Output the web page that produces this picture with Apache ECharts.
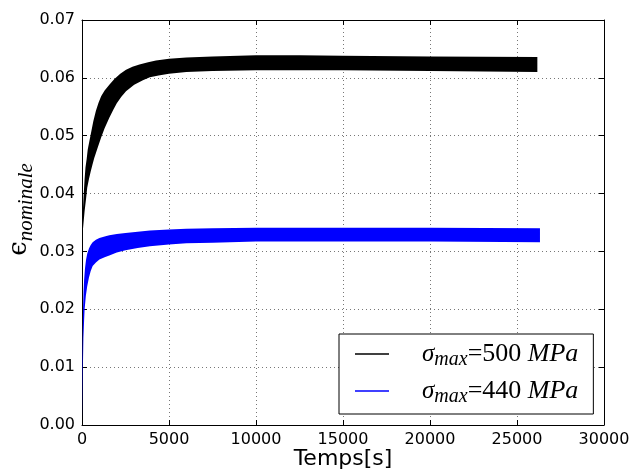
<!DOCTYPE html>
<html><head><meta charset="utf-8">
<script src="https://cdn.jsdelivr.net/npm/echarts@6/dist/echarts.min.js"></script>
<style>html,body{margin:0;padding:0;background:#fff}#c{width:632px;height:472px}</style>
</head><body><div id="c"></div><script>
// Data
const xTicks = [0, 5000, 10000, 15000, 20000, 25000, 30000];
const yTicks = ['0.00','0.01','0.02','0.03','0.04','0.05','0.06','0.07'];
const seriesNames = ['500', '440'];

const blackUpperT = [0,20,50,100,150,200,270,330,420,520,650,800,950,1100,1300,1570,1860,2200,2530,2900,3300,3800,4250,5000,6000,7500,10000,12500,15000,20000,26170];
const blackUpperV = [0.033,0.035,0.037,0.040,0.0425,0.0445,0.046,0.0476,0.049,0.0505,0.0525,0.0543,0.0557,0.0568,0.0578,0.0588,0.0598,0.0607,0.0614,0.0619,0.0623,0.0627,0.0630,0.0633,0.0635,0.0637,0.0639,0.0639,0.0638,0.0637,0.0636];
const blackLowerT = [0,60,150,230,300,400,500,600,700,800,900,1100,1300,1570,1800,2000,2250,2530,3000,3500,3900,4400,5000,6000,7500,10000,15000,20000,26170];
const blackLowerV = [0.033,0.034,0.037,0.039,0.041,0.0425,0.0438,0.045,0.0461,0.0470,0.0479,0.0497,0.0513,0.0531,0.0545,0.0556,0.0567,0.0577,0.0588,0.0596,0.0601,0.0604,0.0607,0.0610,0.0612,0.0613,0.0613,0.0612,0.0610];

const blueUpperT = [0,15,30,45,60,90,120,170,230,300,400,500,613,800,1000,1300,1570,2000,2500,3200,3900,5000,6000,7500,10000,15000,20000,26320];
const blueUpperV = [0.001,0.007,0.012,0.017,0.020,0.023,0.025,0.027,0.0285,0.0296,0.0305,0.0311,0.0316,0.0320,0.0323,0.0326,0.0328,0.0330,0.0332,0.0334,0.0336,0.0338,0.0339,0.0340,0.0341,0.0341,0.0341,0.0340];
const blueLowerT = [0,40,80,120,150,220,300,400,500,613,800,1000,1300,1570,2000,2500,3200,3900,5000,6000,7500,10000,15000,20000,26320];
const blueLowerV = [0.001,0.008,0.015,0.018,0.020,0.0223,0.024,0.0255,0.0266,0.0275,0.0281,0.0286,0.0290,0.0293,0.0298,0.0302,0.0306,0.0309,0.0312,0.0314,0.0315,0.0317,0.0317,0.0317,0.0316];

function band(upT, upV, loT, loV) {
  return function (params, api) {
    const pts = [];
    for (let i = 0; i < upT.length; i++) pts.push(api.coord([upT[i], upV[i]]));
    for (let i = loT.length - 1; i >= 0; i--) pts.push(api.coord([loT[i], loV[i]]));
    return { type: 'polygon', shape: { points: pts }, style: { fill: api.visual('color') } };
  };
}

const chart = echarts.init(document.getElementById('c'));
const gridLine = { show: true, lineStyle: { color: '#777', type: [1, 3], width: 1 } };
const axisBase = { axisLine: { show: true, onZero: false, lineStyle: { color: '#000', width: 1 } },
  axisTick: { show: true, inside: true, length: 5, lineStyle: { color: '#000' } } };

const legendText = v => '{s|σ}{m|max}{t|=' + v + ' }{i|MPa}';

chart.setOption({
  animation: false,
  grid: { left: 82, right: 28, top: 20, bottom: 47, containLabel: false, outerBoundsMode: 'none' },
  xAxis: [
    Object.assign({ type: 'value', min: 0, max: 30000, interval: 5000, position: 'bottom',
      name: 'Temps[s]', nameLocation: 'middle', nameGap: 23, nameMoveOverlap: false,
      nameTextStyle: { fontFamily: 'DejaVu Sans', fontSize: 22, color: '#000' },
      axisLabel: { fontFamily: 'DejaVu Sans', fontSize: 16, color: '#000', margin: 7,
        formatter: v => String(xTicks[xTicks.indexOf(v)]) },
      splitLine: gridLine }, axisBase),
    Object.assign({ type: 'value', min: 0, max: 30000, interval: 5000, position: 'top',
      axisLabel: { show: false }, splitLine: { show: false } }, axisBase)
  ],
  yAxis: [
    Object.assign({ type: 'value', min: 0, max: 0.07, interval: 0.01, position: 'left',
      name: '{e|ϵ}{s|nominale}', nameLocation: 'middle', nameGap: 45, nameRotate: 90, nameMoveOverlap: false,
      nameTextStyle: { padding: [0, 0, 0, 26], rich: {
        e: { fontFamily: 'DejaVu Serif', fontSize: 26, color: '#000' },
        s: { fontFamily: 'Liberation Serif', fontStyle: 'italic', fontSize: 21, color: '#000', padding: [14, 0, 0, 0] } } },
      axisLabel: { fontFamily: 'DejaVu Sans', fontSize: 16, color: '#000', margin: 7,
        formatter: v => yTicks[Math.round(v * 100)] },
      splitLine: gridLine }, axisBase),
    Object.assign({ type: 'value', min: 0, max: 0.07, interval: 0.01, position: 'right',
      axisLabel: { show: false }, splitLine: { show: false } }, axisBase)
  ],
  legend: {
    orient: 'vertical', left: 339, top: 334,
    padding: [7, 15, 7, 16], itemGap: 8,
    borderColor: '#000', borderWidth: 1, backgroundColor: '#fff',
    icon: 'rect', itemWidth: 34, itemHeight: 1.5,
    data: seriesNames.map(n => 'σmax=' + n + ' MPa'),
    formatter: name => legendText(name.replace('σmax=', '').replace(' MPa', '')),
    textStyle: { rich: {
      s: { fontFamily: 'Liberation Serif', fontStyle: 'italic', fontSize: 25, color: '#000', padding: [0, 0, 0, 28] },
      m: { fontFamily: 'Liberation Serif', fontStyle: 'italic', fontSize: 20, color: '#000', padding: [12, 0, 0, 0] },
      t: { fontFamily: 'Liberation Serif', fontSize: 26, color: '#000' },
      i: { fontFamily: 'Liberation Serif', fontStyle: 'italic', fontSize: 26, color: '#000' } } }
  },
  series: [
    { type: 'custom', name: 'σmax=' + seriesNames[0] + ' MPa', data: [[0, 0]], clip: true,
      itemStyle: { color: '#000000' }, renderItem: band(blackUpperT, blackUpperV, blackLowerT, blackLowerV) },
    { type: 'custom', name: 'σmax=' + seriesNames[1] + ' MPa', data: [[0, 0]], clip: true,
      itemStyle: { color: '#0000ff' }, renderItem: band(blueUpperT, blueUpperV, blueLowerT, blueLowerV) }
  ]
});
</script></body></html>
